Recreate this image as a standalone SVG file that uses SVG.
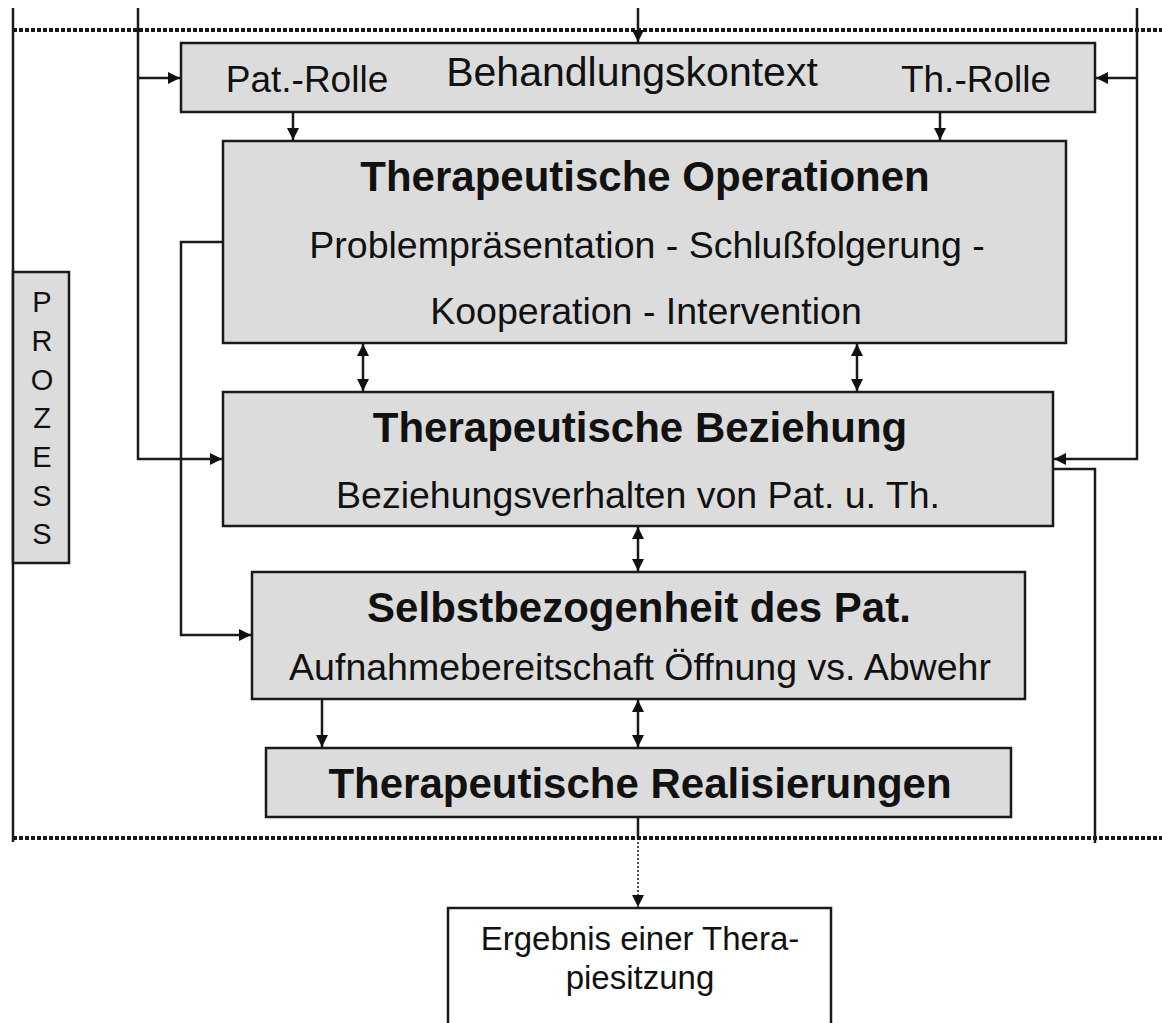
<svg xmlns="http://www.w3.org/2000/svg" width="1162" height="1023" viewBox="0 0 1162 1023">
<defs>
<style>
.box{fill:#dcdcdc;stroke:#1a1a1a;stroke-width:2.5}
.wbox{fill:#ffffff;stroke:#1a1a1a;stroke-width:2.5}
.ln{fill:none;stroke:#1a1a1a;stroke-width:2.5}
.arr{fill:none;stroke:#1a1a1a;stroke-width:2.5;marker-end:url(#ah)}
.bi{fill:none;stroke:#1a1a1a;stroke-width:2.5;marker-end:url(#ah);marker-start:url(#ah)}
.dot{fill:none;stroke:#1a1a1a;stroke-width:4;stroke-dasharray:4 2}
.t{font-family:"Liberation Sans",Arial,sans-serif;fill:#111;text-anchor:middle}
.b{font-weight:bold}
</style>
<marker id="ah" viewBox="0 0 12 12" refX="12" refY="6" markerWidth="12" markerHeight="12" markerUnits="userSpaceOnUse" orient="auto-start-reverse">
<path d="M0,0 L12,6 L0,12 z" fill="#111"/>
</marker>
</defs>
<rect width="1162" height="1023" fill="#ffffff"/>
<g id="boundaries">
<line class="dot" x1="13" y1="30" x2="1162" y2="30"/>
<line class="dot" x1="13" y1="838" x2="1162" y2="838"/>
</g>
<g id="connectors">
<line class="ln" x1="13" y1="8" x2="13" y2="842"/>
<polyline class="arr" points="138,8 138,459 222,459"/>
<line class="arr" x1="138" y1="78" x2="180" y2="78"/>
<polyline class="arr" points="1137,8 1137,459 1054,459"/>
<line class="arr" x1="1137" y1="78" x2="1096" y2="78"/>
<line class="arr" x1="638" y1="8" x2="638" y2="42"/>
<line class="arr" x1="293" y1="112" x2="293" y2="140"/>
<line class="arr" x1="940" y1="112" x2="940" y2="140"/>
<line class="bi" x1="363" y1="344" x2="363" y2="391"/>
<line class="bi" x1="857" y1="344" x2="857" y2="391"/>
<line class="bi" x1="638" y1="527" x2="638" y2="571"/>
<polyline class="arr" points="222,242 181,242 181,635 251,635"/>
<polyline class="ln" points="1054,469 1095,469 1095,843"/>
<line class="arr" x1="322" y1="699" x2="322" y2="747"/>
<line class="bi" x1="638" y1="700" x2="638" y2="747"/>
<line class="ln" x1="638" y1="818" x2="638" y2="838"/>
<line x1="638" y1="838" x2="638" y2="907" stroke="#1a1a1a" stroke-width="1.5" stroke-dasharray="2 2" marker-end="url(#ah)"/>
</g>
<g id="prozess">
<rect class="box" x="13" y="272" width="56" height="291"/>
<text class="t" font-size="29" x="42"><tspan x="42" y="312">P</tspan><tspan x="42" y="351">R</tspan><tspan x="42" y="390">O</tspan><tspan x="42" y="428">Z</tspan><tspan x="42" y="467">E</tspan><tspan x="42" y="506">S</tspan><tspan x="42" y="544">S</tspan></text>
</g>
<g id="behandlungskontext">
<rect class="box" x="181" y="43" width="914" height="69"/>
<text class="t" font-size="37" x="307" y="92">Pat.-Rolle</text>
<text class="t" font-size="41" x="632" y="86">Behandlungskontext</text>
<text class="t" font-size="37" x="976" y="92">Th.-Rolle</text>
</g>
<g id="operationen">
<rect class="box" x="223" y="141" width="843" height="202"/>
<text class="t b" font-size="42" x="645" y="191">Therapeutische Operationen</text>
<text class="t" font-size="37.5" x="647" y="258">Problempräsentation - Schlußfolgerung -</text>
<text class="t" font-size="37.5" x="646" y="324">Kooperation - Intervention</text>
</g>
<g id="beziehung">
<rect class="box" x="223" y="392" width="830" height="134"/>
<text class="t b" font-size="42" x="640" y="442">Therapeutische Beziehung</text>
<text class="t" font-size="37.5" x="638" y="508">Beziehungsverhalten von Pat. u. Th.</text>
</g>
<g id="selbstbezogenheit">
<rect class="box" x="252" y="572" width="773" height="127"/>
<text class="t b" font-size="42" x="639" y="622">Selbstbezogenheit des Pat.</text>
<text class="t" font-size="37.5" x="640" y="680">Aufnahmebereitschaft Öffnung vs. Abwehr</text>
</g>
<g id="realisierungen">
<rect class="box" x="266" y="748" width="745" height="69"/>
<text class="t b" font-size="42" x="640" y="798">Therapeutische Realisierungen</text>
</g>
<g id="ergebnis">
<rect class="wbox" x="448" y="908" width="383" height="130"/>
<text class="t" font-size="33" x="640" y="950">Ergebnis einer Thera-</text>
<text class="t" font-size="33" x="640" y="989">piesitzung</text>
</g>
</svg>
